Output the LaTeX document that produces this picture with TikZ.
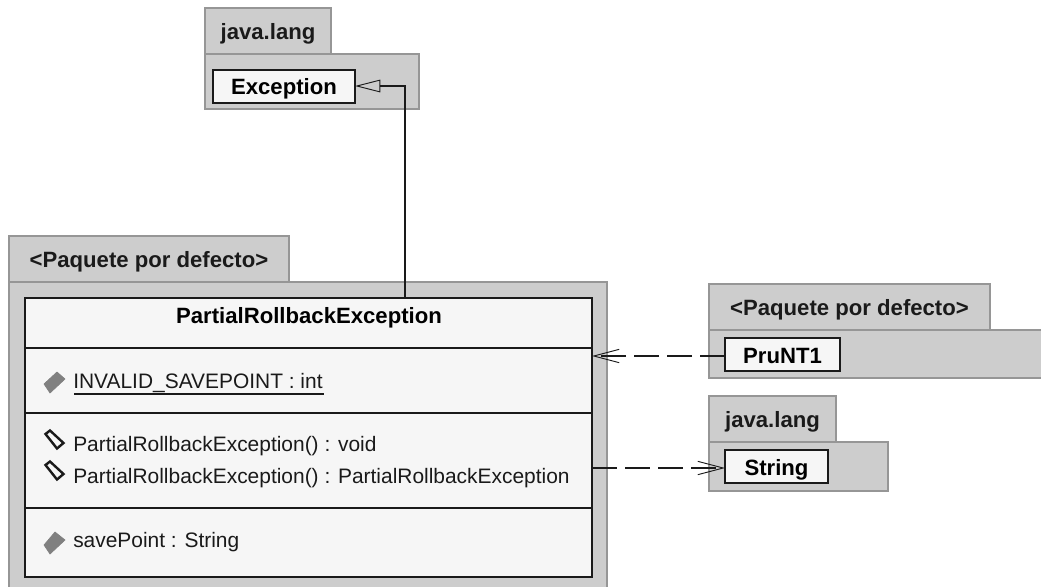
\documentclass[tikz,border=0pt]{standalone}
\usepackage{fontspec}
\setmainfont{Liberation Sans}
\usepackage{xcolor}
\usetikzlibrary{arrows.meta}
\definecolor{vpack}{HTML}{CDCDCD}
\definecolor{vedge}{HTML}{969696}
\definecolor{vclass}{HTML}{F6F6F6}
\definecolor{vblack}{HTML}{1A1A1A}
\definecolor{vicon}{HTML}{808080}
\tikzset{
	packtab/.style = {draw = vedge, fill = vpack, line width = 1.5pt, anchor = north west, outer sep = 0pt, inner sep = 0pt, font = \fontsize{16.6}{18}\selectfont\bfseries, text = vblack, text height = 12.5pt, text depth = 0pt},
	packbody/.style = {draw = vedge, fill = vpack, line width = 1.5pt, anchor = north west, outer sep = 0pt, inner sep = 0pt},
	classbox/.style = {draw = vblack, fill = vclass, line width = 1.5pt, anchor = north west, outer sep = 0pt, inner sep = 0pt, font = \fontsize{16.6}{18}\selectfont\bfseries, text = black, text height = 13pt, text depth = 0pt},
	member/.style = {anchor = west, inner sep = 0pt, font = \fontsize{15.7}{17}\selectfont, text = vblack, text height = 11pt, text depth = 0pt},
	iconfull/.style = {draw = vicon, fill = vicon, line width = .5pt},
	iconopen/.style = {draw = vblack, fill = vclass, line width = 1.8pt},
	dep/.style = {draw = vblack, line width = 1.2pt, dash pattern = on 25*.75pt off 8*.75pt, -{Straight Barb[length = 19pt, width = 10pt, line width = .7pt]}}
}
\begin{document}
\begin{tikzpicture}[x = .75pt, y = -.75pt]
	\useasboundingbox (0,0) rectangle (1041,586);
	% java.lang, top
	\node[packtab, minimum width = 126*.75pt, minimum height = 46*.75pt] (langtab) at (205,8) {java.lang};
	\node[packbody, minimum width = 214*.75pt, minimum height = 55*.75pt] (langbody) at (205,54) {};
	\node[classbox, minimum width = 142*.75pt, minimum height = 33*.75pt] (exception) at (213,69.5) {Exception};
	% default package, left
	\node[packtab, minimum width = 280*.75pt, minimum height = 46*.75pt] (deftab) at (9,236) {<Paquete por defecto>};
	\node[packbody, minimum width = 598*.75pt, minimum height = 320*.75pt] (defbody) at (9,282) {};
	\node[classbox, minimum width = 567*.75pt, minimum height = 279*.75pt] (rollback) at (25,298) {};
	\node[font = \fontsize{16.6}{18}\selectfont\bfseries, text = black, text height = 13pt, text depth = 0pt, inner sep = 0pt] (rollbackname) at (309,314.5) {PartialRollbackException};
	\draw[draw = vblack, line width = 1.5pt] (rollback.west |- 0,348) -- (rollback.east |- 0,348);
	\draw[draw = vblack, line width = 1.5pt] (rollback.west |- 0,413) -- (rollback.east |- 0,413);
	\draw[draw = vblack, line width = 1.5pt] (rollback.west |- 0,508) -- (rollback.east |- 0,508);
	% members
	\node[member] (invalid) at (73,381) {INVALID\_SAVEPOINT : int};
	\draw[draw = vblack, line width = 1.2pt] (74,394) -- (324,394);
	\node[member] (ctorvoid) at (73,444.5) {PartialRollbackException() : void};
	\node[member] (ctorself) at (73,476) {PartialRollbackException() : PartialRollbackException};
	\node[member] (savepoint) at (73,540.5) {savePoint : String};
	\draw[iconfull] (44,384) -- (57,372) -- (65,379) -- (50,393) -- cycle;
	\draw[iconopen] (45.5,434) -- (50,430.5) -- (63.5,443) -- (57,448.5) -- cycle;
	\draw[iconopen] (45.5,465) -- (50,461.5) -- (63.5,474) -- (57,479.5) -- cycle;
	\draw[iconfull] (44,545) -- (55,532) -- (65,540) -- (50,554) -- cycle;
	% default package, right
	\node[packtab, minimum width = 281*.75pt, minimum height = 46*.75pt] (prutab) at (709,284) {<Paquete por defecto>};
	\node[packbody, minimum width = 345*.75pt, minimum height = 48*.75pt] (prubody) at (709,330) {};
	\node[classbox, minimum width = 115*.75pt, minimum height = 33*.75pt] (prunt) at (725,338) {PruNT1};
	% java.lang, right
	\node[packtab, minimum width = 127*.75pt, minimum height = 46*.75pt] (strtab) at (709,396) {java.lang};
	\node[packbody, minimum width = 179*.75pt, minimum height = 49*.75pt] (strbody) at (709,442) {};
	\node[classbox, minimum width = 103*.75pt, minimum height = 33*.75pt] (string) at (725,450) {String};
	% connectors
	\coordinate (genturn) at (405,86);
	\coordinate (usein) at (592,356);
	\coordinate (useout) at (592,468);
	\draw[draw = vblack, line width = 1.5pt, -{Triangle[open, length = 19pt, width = 9.5pt, line width = .7pt, fill = vpack]}] (rollback.north -| genturn) -- (genturn) -- (exception.east |- genturn);
	\draw[dep] (usein -| prunt.west) -- (usein);
	\draw[dep] (useout) -- (useout -| string.west);
\end{tikzpicture}
\end{document}
